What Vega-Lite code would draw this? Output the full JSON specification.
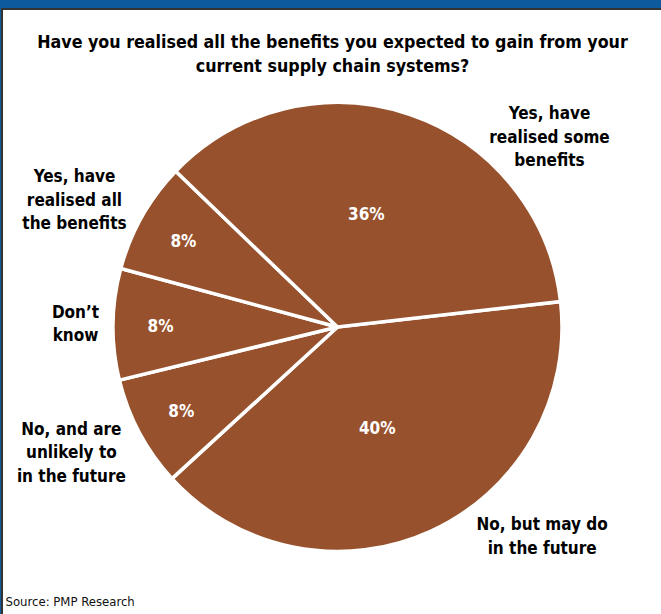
{
  "$schema": "https://vega.github.io/schema/vega-lite/v6.json",
  "autosize": "none",
  "padding": {"left": 2, "top": 9, "right": -12, "bottom": -31},
  "width": 671,
  "height": 636,
  "background": "#0E5A9E",
  "view": {"fill": "#ffffff", "stroke": "#333333", "strokeWidth": 2},
  "title": {
    "text": ["Have you realised all the benefits you expected to gain from your", "current supply chain systems?"],
    "anchor": "middle",
    "frame": "group",
    "offset": -67,
    "dx": -5,
    "font": "Liberation Sans Narrow, DejaVu Sans Condensed, sans-serif",
    "fontSize": 17.7,
    "fontWeight": "bold",
    "color": "#000000",
    "lineHeight": 24
  },
  "data": {
    "values": [
      {"k": 1, "label": "No, but may do\nin the future", "value": 0.40},
      {"k": 2, "label": "No, and are\nunlikely to\nin the future", "value": 0.08},
      {"k": 3, "label": "Don’t\nknow", "value": 0.08},
      {"k": 4, "label": "Yes, have\nrealised all\nthe benefits", "value": 0.08},
      {"k": 5, "label": "Yes, have\nrealised some\nbenefits", "value": 0.36}
    ]
  },
  "layer": [
    {
      "mark": {"type": "arc", "outerRadius": 224.5, "color": "#97522D", "stroke": "#ffffff", "strokeWidth": 3.5},
      "encoding": {
        "theta": {"field": "value", "type": "quantitative", "stack": true, "scale": {"range": [1.4574, 7.7406]}},
        "order": {"field": "k", "type": "quantitative"}
      }
    },
    {
      "mark": {"type": "text", "radius": 115, "dx": -8, "dy": -3, "font": "Liberation Sans Narrow, DejaVu Sans Condensed, sans-serif", "fontSize": 17, "fontWeight": "bold", "color": "#ffffff", "align": "center", "baseline": "middle"},
      "encoding": {
        "theta": {"field": "value", "type": "quantitative", "stack": true},
        "order": {"field": "k", "type": "quantitative"},
        "text": {"condition": {"test": "datum.value > 0.2", "field": "value", "type": "quantitative", "format": ".0%"}, "value": ""}
      }
    },
    {
      "mark": {"type": "text", "radius": 177, "dy": 2, "font": "Liberation Sans Narrow, DejaVu Sans Condensed, sans-serif", "fontSize": 17, "fontWeight": "bold", "color": "#ffffff", "align": "center", "baseline": "middle"},
      "encoding": {
        "theta": {"field": "value", "type": "quantitative", "stack": true},
        "order": {"field": "k", "type": "quantitative"},
        "text": {"condition": {"test": "datum.value < 0.2", "field": "value", "type": "quantitative", "format": ".0%"}, "value": ""}
      }
    },
    {
      "mark": {"type": "text", "radius": 262, "dx": 96, "dy": -40, "lineBreak": "\n", "lineHeight": 23.5, "font": "Liberation Sans Narrow, DejaVu Sans Condensed, sans-serif", "fontSize": 17, "fontWeight": "bold", "color": "#000000", "align": "center", "baseline": "middle"},
      "encoding": {
        "theta": {"field": "value", "type": "quantitative", "stack": true},
        "order": {"field": "k", "type": "quantitative"},
        "text": {"condition": {"test": "datum.k == 1", "field": "label"}, "value": ""}
      }
    },
    {
      "mark": {"type": "text", "radius": 262, "dx": -35, "dy": -20.5, "lineBreak": "\n", "lineHeight": 23.5, "font": "Liberation Sans Narrow, DejaVu Sans Condensed, sans-serif", "fontSize": 17, "fontWeight": "bold", "color": "#000000", "align": "center", "baseline": "middle"},
      "encoding": {
        "theta": {"field": "value", "type": "quantitative", "stack": true},
        "order": {"field": "k", "type": "quantitative"},
        "text": {"condition": {"test": "datum.k == 2 || datum.k == 4", "field": "label"}, "value": ""}
      }
    },
    {
      "mark": {"type": "text", "radius": 262, "dx": 0, "dy": -11, "lineBreak": "\n", "lineHeight": 23.5, "font": "Liberation Sans Narrow, DejaVu Sans Condensed, sans-serif", "fontSize": 17, "fontWeight": "bold", "color": "#000000", "align": "center", "baseline": "middle"},
      "encoding": {
        "theta": {"field": "value", "type": "quantitative", "stack": true},
        "order": {"field": "k", "type": "quantitative"},
        "text": {"condition": {"test": "datum.k == 3", "field": "label"}, "value": ""}
      }
    },
    {
      "mark": {"type": "text", "radius": 262, "dx": 128, "dy": 35.5, "lineBreak": "\n", "lineHeight": 23.5, "font": "Liberation Sans Narrow, DejaVu Sans Condensed, sans-serif", "fontSize": 17, "fontWeight": "bold", "color": "#000000", "align": "center", "baseline": "middle"},
      "encoding": {
        "theta": {"field": "value", "type": "quantitative", "stack": true},
        "order": {"field": "k", "type": "quantitative"},
        "text": {"condition": {"test": "datum.k == 5", "field": "label"}, "value": ""}
      }
    },
    {
      "mark": {"type": "rule", "opacity": 0},
      "encoding": {
        "x": {
          "datum": 0,
          "type": "quantitative",
          "axis": {
            "title": "Source: PMP Research",
            "labels": false,
            "ticks": false,
            "domain": false,
            "grid": false,
            "titleAnchor": "start",
            "titleAlign": "left",
            "titleBaseline": "top",
            "titlePadding": -50,
            "titleX": 3,
            "titleFont": "Liberation Sans Narrow, DejaVu Sans Condensed, sans-serif",
            "titleFontSize": 13,
            "titleFontWeight": "normal",
            "titleColor": "#111111"
          }
        }
      }
    }
  ]
}
